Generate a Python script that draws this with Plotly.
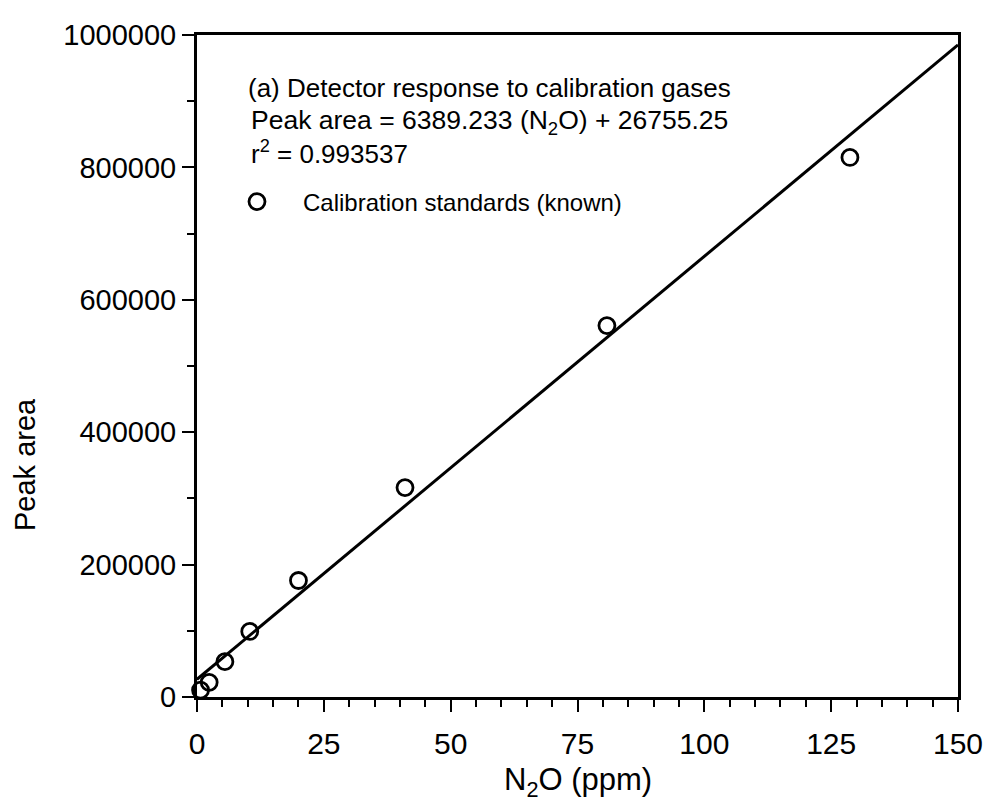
import plotly.graph_objects as go

# Calibration standards
n2o_ppm = [0.7, 2.4, 5.5, 10.4, 20.0, 41.0, 80.8, 128.7]
peak_area = [10500, 22200, 53400, 99000, 176000, 316300, 561000, 815000]

# Regression line (coefficients printed on the chart)
slope = 6389.233
intercept = 26755.25
fit_x = [0, 150]
fit_y = [slope * v + intercept for v in fit_x]

x_ticks = [0, 25, 50, 75, 100, 125, 150]
y_ticks = [0, 200000, 400000, 600000, 800000, 1000000]

FONT = "Liberation Sans, Arial, Helvetica, sans-serif"

OFF = 8  # page body margin
W, H = 992, 804
L, R, T, B = 197 - OFF, 42, 35 - OFF, 115
PW, PH = W - L - R, H - T - B


def px(xp):
    # page pixel -> paper coordinate
    return (xp - OFF - L) / PW


def py(yp):
    return (H - B - (yp - OFF)) / PH


fig = go.Figure()
fig.add_trace(go.Scatter(
    x=fit_x, y=fit_y, mode="lines",
    line=dict(color="black", width=3),
    showlegend=False, hoverinfo="skip",
))
fig.add_trace(go.Scatter(
    x=n2o_ppm, y=peak_area, mode="markers",
    marker=dict(symbol="circle-open", size=16, color="black",
                line=dict(width=2.8, color="black")),
    name="Calibration standards (known)",
    cliponaxis=False,
))

fig.update_layout(
    width=W, height=H,
    margin=dict(l=L, r=R, t=T, b=B, pad=0),
    paper_bgcolor="white", plot_bgcolor="white",
    font=dict(family=FONT, color="black"),
    showlegend=True,
    legend=dict(x=px(211), y=py(202), xanchor="left", yanchor="middle",
                bgcolor="rgba(0,0,0,0)", font=dict(size=24, family=FONT),
                itemwidth=82, tracegroupgap=0),
    xaxis=dict(
        range=[0, 150], tickvals=x_ticks, ticktext=[str(v) for v in x_ticks],
        ticks="outside", ticklen=12, tickwidth=2, tickcolor="black",
        showline=True, linewidth=3, linecolor="black", mirror=True,
        showgrid=False, zeroline=False,
        tickfont=dict(size=30, family=FONT), ticklabelstandoff=6,
        minor=dict(dtick=5, ticks="outside", ticklen=7, tickwidth=2, tickcolor="black"),
    ),
    yaxis=dict(
        range=[0, 1000000], tickvals=y_ticks, ticktext=[str(v) for v in y_ticks],
        ticks="outside", ticklen=12, tickwidth=2, tickcolor="black",
        showline=True, linewidth=3, linecolor="black", mirror=True,
        showgrid=False, zeroline=False,
        tickfont=dict(size=29, family=FONT), ticklabelstandoff=0,
        minor=dict(dtick=100000, ticks="outside", ticklen=7, tickwidth=2, tickcolor="black"),
    ),
    annotations=[
        dict(text="(a) Detector response to calibration gases", xref="paper", yref="paper",
             x=px(246), y=py(88), xanchor="left", yanchor="middle", showarrow=False,
             font=dict(size=26, family=FONT)),
        dict(text="Peak area = 6389.233 (N<sub>2</sub>O) + 26755.25", xref="paper", yref="paper",
             x=px(249), y=py(122), xanchor="left", yanchor="middle", showarrow=False,
             font=dict(size=26.5, family=FONT)),
        dict(text="r<sup>2</sup> = 0.993537", xref="paper", yref="paper",
             x=px(249), y=py(153), xanchor="left", yanchor="middle", showarrow=False,
             font=dict(size=26, family=FONT)),
        dict(text="Peak area", xref="paper", yref="paper",
             x=px(25), y=py(465), xanchor="center", yanchor="middle", textangle=-90,
             showarrow=False, font=dict(size=29, family=FONT)),
        dict(text="N<sub>2</sub>O (ppm)", xref="paper", yref="paper",
             x=px(578), y=py(782), xanchor="center", yanchor="middle",
             showarrow=False, font=dict(size=31, family=FONT)),
    ],
)

fig.write_html("out.html")
